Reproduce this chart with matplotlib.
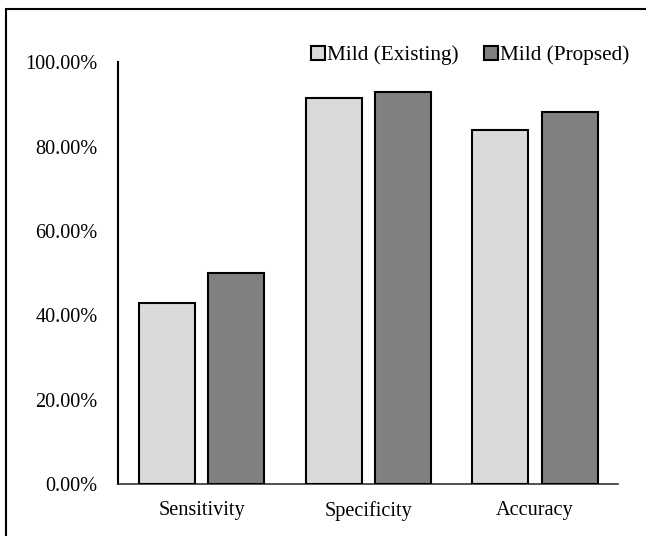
import numpy as np
import matplotlib
matplotlib.use("Agg")
import matplotlib.pyplot as plt
from matplotlib.patches import Rectangle
from matplotlib.ticker import FuncFormatter

plt.rcParams['font.family'] = ['Liberation Serif', 'DejaVu Serif']

categories = ["Sensitivity", "Specificity", "Accuracy"]
existing = [42.86, 91.6, 84.0]
proposed = [50.0, 92.9, 88.3]
series_names = ["Mild (Existing)", "Mild (Propsed)"]
yticks = [0, 20, 40, 60, 80, 100]

fs = 14.6

fig = plt.figure(figsize=(6.46, 5.36), dpi=100)
ax = fig.add_axes([0.183, 0.097, 0.774, 0.787])

x = np.arange(len(categories))
width = 0.336
offset = width / 2 + 0.04
ax.bar(x - offset, existing, width, color="#d9d9d9", edgecolor="black",
       linewidth=1.5, label=series_names[0], zorder=3)
ax.bar(x + offset, proposed, width, color="#808080", edgecolor="black",
       linewidth=1.5, label=series_names[1], zorder=3)

ax.set_xlim(-0.5, 2.5)
ax.set_ylim(0, 100)
ax.set_yticks(yticks)
ax.yaxis.set_major_formatter(FuncFormatter(lambda v, p: f"{v:.2f}%"))
ax.set_xticks(x)
ax.set_xticklabels(categories)
ax.tick_params(axis="both", length=0, labelsize=fs)
ax.tick_params(axis="y", pad=15)
ax.tick_params(axis="x", pad=12)

for side in ["top", "right"]:
    ax.spines[side].set_visible(False)
ax.spines["left"].set_linewidth(1.5)
ax.spines["bottom"].set_linewidth(1.2)
ax.spines["bottom"].set_color("#333333")

leg = ax.legend(loc="center right", bbox_to_anchor=(0.974, 0.897),
                bbox_transform=fig.transFigure, ncol=2, frameon=False,
                fontsize=15.3, handlelength=0.65, handleheight=0.65,
                handletextpad=0.1, columnspacing=1.2, borderaxespad=0,
                borderpad=0)
for h in leg.legend_handles:
    h.set_linewidth(1.5)

# outer frame (left and top edges)
fig.patches.append(Rectangle((5.7 / 646, -0.1), 1.2, 1 - 9 / 536 + 0.1,
                             transform=fig.transFigure, fill=False,
                             edgecolor="black", linewidth=1.5))

fig.savefig("out.png", dpi=100)
